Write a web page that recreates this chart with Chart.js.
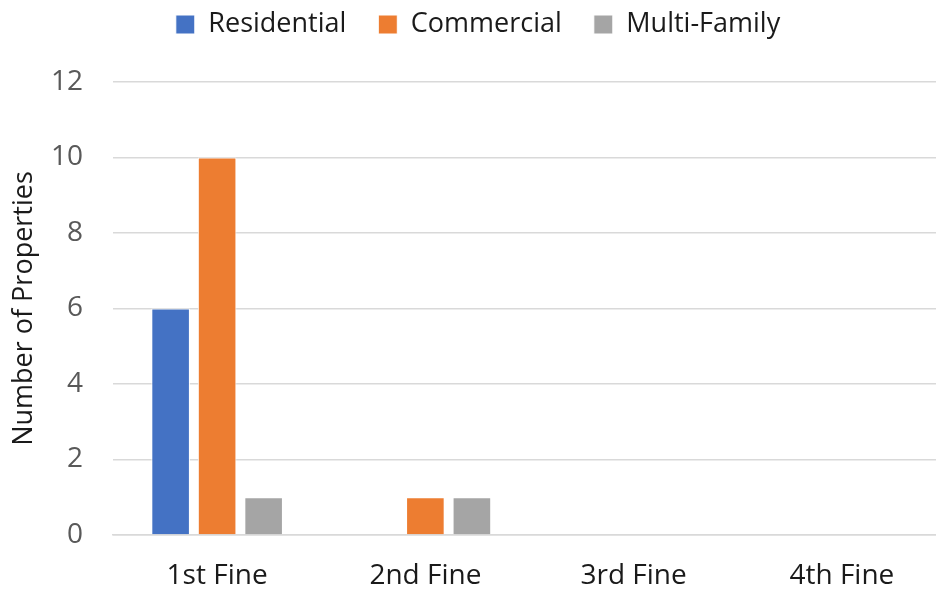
<!DOCTYPE html>
<html>
<head>
<meta charset="utf-8">
<script src="https://cdn.jsdelivr.net/npm/chart.js@4"></script>
<style>
  html, body { margin: 0; padding: 0; background: #fff; overflow: hidden; }
  #wrap { width: 946px; height: 589px; }
</style>
</head>
<body>
<div id="wrap"><canvas id="fineChart"></canvas></div>
<script>
const categories = ['1st Fine', '2nd Fine', '3rd Fine', '4th Fine'];
const residential = [6, 0, 0, 0];
const commercial = [10, 1, 0, 0];
const multiFamily = [1, 1, 0, 0];

Chart.defaults.font.family = '"Open Sans", Lato, sans-serif';
Chart.defaults.color = '#595959';

// fixed legend height so the plot starts where it should,
// and nudge the legend a little to the right
const legendGap = {
  id: 'legendGap',
  beforeInit(chart) {
    const fit = chart.legend.fit;
    chart.legend.fit = function () {
      fit.bind(chart.legend)();
      this.height = 103;
    };
  },
  afterLayout(chart) {
    chart.legend.left += 10;
  }
};

var ctx = document.getElementById('fineChart');
const fineChart = new Chart(ctx, {
  type: 'bar',
  data: {
    labels: categories,
    datasets: [{
      label: 'Residential',
      data: residential,
      backgroundColor: '#4472C4'
    }, {
      label: 'Commercial',
      data: commercial,
      backgroundColor: '#ED7D31'
    }, {
      label: 'Multi-Family',
      data: multiFamily,
      backgroundColor: '#A5A5A5'
    }]
  },
  options: {
    responsive: true,
    maintainAspectRatio: false,
    animation: false,
    layout: {
      padding: { top: -21, right: 0, bottom: 0, left: 0 }
    },
    datasets: {
      bar: {
        categoryPercentage: 0.67,
        barPercentage: 0.83,
        borderWidth: 1,
        borderColor: '#ffffff'
      }
    },
    plugins: {
      legend: {
        position: 'top',
        labels: {
          color: '#1a1a1a',
          boxWidth: 19,
          boxHeight: 19,
          padding: 32,
          font: { size: 27 }
        }
      },
      tooltip: { enabled: false }
    },
    scales: {
      y: {
        min: 0,
        max: 12,
        afterFit(scale) { scale.width = 113; },
        ticks: {
          stepSize: 2,
          padding: 30,
          font: { size: 28 }
        },
        grid: {
          color: '#d9d9d9',
          lineWidth: 1.5,
          drawTicks: false
        },
        border: { display: false },
        title: {
          display: true,
          text: 'Number of Properties',
          color: '#1a1a1a',
          font: { size: 27 },
          padding: { top: 8, bottom: 0 }
        }
      },
      x: {
        afterFit(scale) { scale.height = 54; },
        ticks: {
          padding: 24,
          color: '#1a1a1a',
          font: { size: 28 }
        },
        grid: { display: false, drawTicks: false },
        border: { color: '#d9d9d9', width: 1.5 }
      }
    }
  },
  plugins: [legendGap]
});
</script>
</body>
</html>
